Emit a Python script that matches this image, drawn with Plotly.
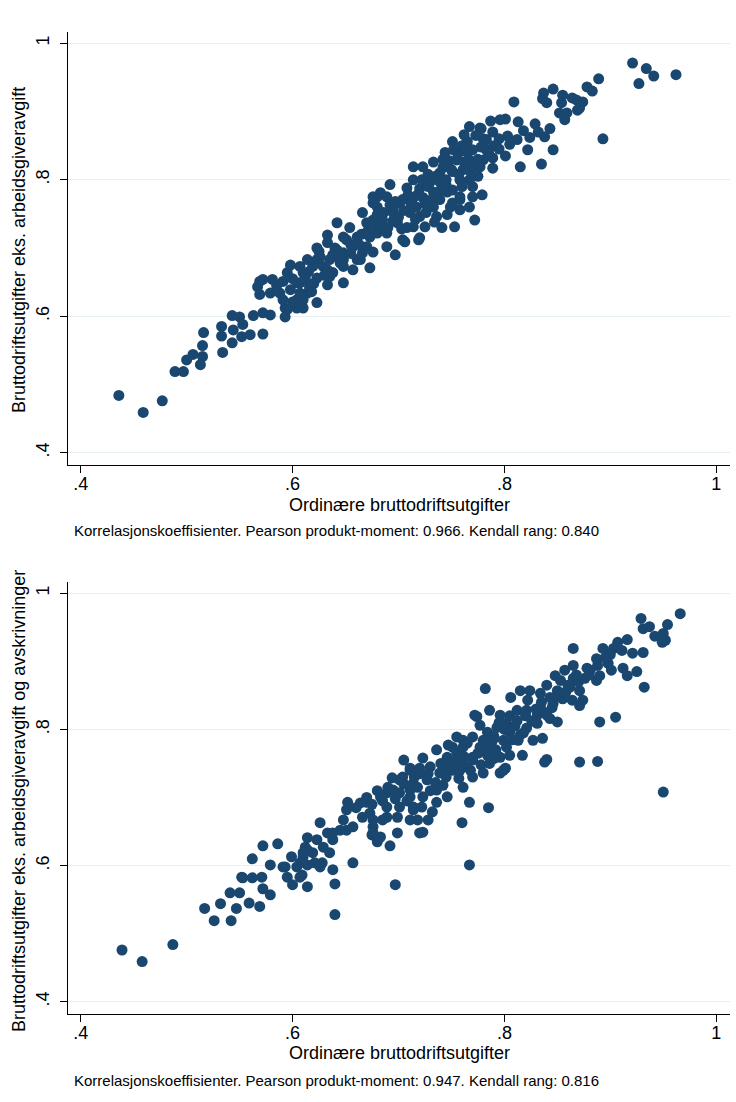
import plotly.graph_objects as go

# ---- data ----
top_points = [
(0.436,0.484),(0.459,0.459),(0.477,0.476),(0.489,0.519),(0.497,0.519),(0.500,0.536),(0.506,0.544),(0.513,0.529),(0.515,0.541),(0.515,0.557),(0.516,0.576),(0.534,0.547),(0.533,0.571),(0.533,0.585),(0.543,0.561),(0.544,0.580),(0.543,0.601),(0.550,0.599),(0.553,0.588),(0.552,0.570),(0.560,0.573),(0.563,0.601),(0.572,0.605),(0.579,0.602),(0.572,0.574),(0.567,0.643),(0.572,0.654),(0.581,0.654),(0.569,0.632),(0.579,0.634),(0.588,0.634),(0.593,0.612),(0.593,0.599),(0.595,0.664),(0.598,0.639),(0.604,0.624),(0.607,0.649),(0.610,0.612),(0.604,0.612),(0.614,0.634),(0.616,0.643),(0.623,0.620),(0.607,0.673),(0.614,0.683),(0.623,0.683),(0.623,0.700),(0.633,0.719),(0.633,0.708),(0.629,0.673),(0.635,0.683),(0.638,0.664),(0.642,0.687),(0.648,0.693),(0.633,0.646),(0.648,0.649),(0.642,0.737),(0.654,0.730),(0.651,0.712),(0.657,0.702),(0.661,0.683),(0.657,0.668),(0.666,0.693),(0.673,0.671),(0.666,0.752),(0.676,0.775),(0.680,0.760),(0.683,0.781),(0.689,0.775),(0.692,0.793),(0.676,0.741),(0.685,0.741),(0.680,0.722),(0.689,0.722),(0.689,0.702),(0.695,0.756),(0.697,0.690),(0.704,0.712),(0.701,0.766),(0.708,0.788),(0.714,0.819),(0.714,0.800),(0.714,0.731),(0.719,0.712),
(0.767,0.878),(0.751,0.856),(0.765,0.856),(0.744,0.840),(0.755,0.829),(0.733,0.826),(0.723,0.819),(0.739,0.810),(0.751,0.812),(0.770,0.819),(0.722,0.800),(0.730,0.797),(0.739,0.797),(0.758,0.800),(0.767,0.800),(0.720,0.787),(0.733,0.782),(0.746,0.782),(0.751,0.785),(0.680,0.775),
(0.704,0.771),(0.714,0.774),(0.723,0.774),(0.739,0.771),(0.758,0.771),(0.770,0.775),(0.676,0.766),(0.692,0.763),(0.717,0.760),(0.733,0.760),(0.751,0.766),(0.767,0.760),(0.680,0.749),(0.695,0.752),(0.711,0.752),(0.720,0.746),(0.736,0.746),(0.746,0.749),(0.758,0.756),(0.670,0.737),(0.683,0.731),(0.699,0.737),(0.708,0.730),(0.725,0.731),(0.741,0.730),(0.753,0.731),(0.772,0.741),(0.648,0.716),(0.661,0.716),(0.673,0.716),(0.720,0.715),(0.642,0.697),(0.670,0.702),(0.676,0.694),(0.626,0.687),(0.648,0.683),(0.664,0.683),(0.598,0.675),(0.619,0.673),(0.633,0.668),(0.648,0.673),(0.610,0.664),(0.623,0.656),(0.635,0.658),(0.569,0.651),(0.591,0.651),(0.604,0.649),(0.607,0.634),(0.618,0.636),(0.591,0.624),(0.600,0.621),(0.610,0.624),(0.595,0.610),
(0.889,0.948),(0.878,0.936),(0.883,0.930),(0.846,0.933),(0.837,0.927),(0.836,0.919),(0.840,0.913),(0.855,0.924),(0.864,0.920),(0.854,0.913),(0.874,0.914),(0.869,0.902),(0.852,0.898),(0.857,0.888),(0.859,0.898),(0.809,0.914),(0.893,0.860),(0.801,0.889),(0.813,0.885),(0.829,0.882),(0.843,0.875),(0.818,0.872),(0.832,0.870),(0.803,0.864),(0.812,0.859),(0.824,0.862),(0.838,0.863),(0.796,0.888),(0.787,0.886),(0.789,0.870),(0.778,0.875),(0.822,0.844),(0.846,0.844),(0.801,0.835),(0.815,0.819),(0.835,0.823),(0.789,0.817),(0.783,0.859),(0.770,0.844),(0.783,0.844),(0.767,0.829),(0.780,0.829),(0.789,0.832),(0.761,0.815),(0.777,0.819),(0.770,0.790),(0.779,0.778),(0.921,0.971),(0.934,0.963),(0.941,0.952),(0.927,0.941),(0.962,0.954),(0.868,0.917),(0.871,0.905),(0.706,0.709),(0.734,0.738),(0.749,0.760),(0.758,0.775),(0.777,0.876),
(0.745,0.800),(0.760,0.790),(0.750,0.815),(0.775,0.805),(0.765,0.840),(0.740,0.785),(0.725,0.765),(0.700,0.745),(0.690,0.730),(0.665,0.720),(0.655,0.705),(0.640,0.700),(0.625,0.695),(0.615,0.665),(0.600,0.655),(0.585,0.645),(0.780,0.860),(0.790,0.850),(0.795,0.860),(0.760,0.850),(0.773,0.865),
(0.705,0.755),(0.712,0.765),(0.718,0.778),(0.728,0.790),(0.735,0.805),(0.742,0.818),(0.748,0.828),(0.756,0.838),(0.762,0.826),(0.768,0.812),(0.757,0.808),(0.745,0.792),(0.732,0.772),(0.726,0.752),(0.716,0.742),(0.703,0.728),(0.695,0.740),(0.686,0.752),(0.697,0.768),(0.709,0.778),(0.663,0.705),(0.671,0.725),(0.678,0.735),(0.655,0.692),(0.645,0.678),(0.638,0.690),(0.630,0.660),(0.620,0.648),(0.612,0.655),(0.775,0.830),(0.785,0.840),(0.795,0.845),(0.805,0.852),(0.778,0.848),(0.762,0.866),(0.752,0.844),(0.742,0.830),(0.728,0.808),
]

bottom_points = [
(0.439,0.476),(0.458,0.459),(0.487,0.484),
(0.517,0.537),(0.526,0.519),(0.532,0.544),(0.542,0.519),(0.547,0.537),(0.541,0.560),(0.550,0.560),(0.559,0.545),(0.569,0.540),(0.552,0.583),(0.562,0.582),(0.571,0.583),(0.572,0.566),(0.579,0.557),(0.562,0.610),(0.572,0.629),(0.586,0.632),(0.579,0.601),(0.593,0.598),(0.599,0.613),(0.595,0.583),(0.600,0.572),(0.609,0.586),(0.614,0.569),(0.614,0.601),(0.607,0.604),(0.612,0.627),(0.610,0.619),(0.614,0.641),(0.619,0.619),(0.621,0.604),(0.628,0.604),(0.626,0.663),(0.623,0.638),(0.629,0.627),(0.635,0.619),(0.633,0.648),(0.638,0.648),(0.638,0.594),(0.640,0.573),(0.640,0.528),(0.645,0.652),(0.651,0.652),(0.648,0.667),(0.652,0.693),(0.651,0.682),(0.657,0.604),(0.664,0.692),(0.670,0.693),(0.666,0.671),(0.673,0.677),(0.676,0.657),(0.680,0.638),(0.675,0.645),(0.683,0.642),(0.692,0.629),(0.697,0.572),(0.699,0.648),(0.685,0.667),(0.683,0.701),(0.689,0.707),(0.695,0.711),(0.694,0.729),(0.701,0.707),(0.704,0.730),(0.705,0.755),(0.711,0.740),(0.711,0.711),(0.711,0.667),(0.714,0.686),(0.718,0.667),(0.720,0.648),
(0.772,0.821),(0.755,0.789),(0.761,0.784),(0.747,0.777),(0.736,0.770),(0.723,0.758),(0.711,0.743),(0.720,0.743),(0.701,0.726),(0.714,0.721),(0.727,0.726),(0.739,0.736),(0.751,0.740),(0.764,0.745),(0.770,0.755),(0.711,0.701),(0.723,0.701),(0.736,0.711),(0.746,0.701),(0.761,0.715),(0.770,0.730),(0.689,0.686),(0.701,0.686),(0.722,0.686),(0.736,0.693),(0.767,0.693),(0.732,0.679),(0.728,0.667),(0.699,0.671),(0.689,0.671),(0.676,0.667),(0.657,0.657),(0.676,0.648),(0.680,0.635),(0.723,0.649),(0.760,0.663),(0.767,0.601),(0.638,0.638),(0.614,0.623),(0.610,0.613),(0.591,0.598),(0.604,0.598),(0.626,0.598),(0.607,0.583),(0.553,0.582),
(0.966,0.970),(0.929,0.963),(0.931,0.948),(0.937,0.951),(0.954,0.954),(0.942,0.937),(0.950,0.941),(0.949,0.928),(0.952,0.931),(0.916,0.932),(0.907,0.928),(0.903,0.919),(0.911,0.916),(0.893,0.919),(0.921,0.912),(0.931,0.913),(0.925,0.885),(0.932,0.862),(0.865,0.919),(0.887,0.904),(0.888,0.894),(0.898,0.897),(0.901,0.887),(0.912,0.890),(0.916,0.879),(0.881,0.887),(0.890,0.879),(0.887,0.872),(0.876,0.875),(0.865,0.894),(0.857,0.887),(0.848,0.879),(0.865,0.875),(0.862,0.862),(0.871,0.857),(0.874,0.843),(0.871,0.835),(0.864,0.843),(0.853,0.872),(0.840,0.865),(0.850,0.857),(0.834,0.853),(0.824,0.857),(0.815,0.857),(0.822,0.843),(0.843,0.847),(0.846,0.838),(0.834,0.833),(0.782,0.860),(0.806,0.847),(0.812,0.828),(0.821,0.828),(0.831,0.821),(0.840,0.821),(0.843,0.816),(0.850,0.811),(0.786,0.828),(0.796,0.821),(0.774,0.819),(0.802,0.809),(0.812,0.813),(0.821,0.802),(0.831,0.809),(0.777,0.806),(0.784,0.796),(0.793,0.803),(0.805,0.796),(0.815,0.792),(0.890,0.811),(0.905,0.818),(0.770,0.789),(0.780,0.784),(0.789,0.784),(0.799,0.784),(0.827,0.784),(0.836,0.787),(0.751,0.774),(0.761,0.774),(0.777,0.774),(0.786,0.774),(0.802,0.774),(0.813,0.784),(0.746,0.759),(0.758,0.759),(0.770,0.759),(0.784,0.762),(0.796,0.759),(0.805,0.762),(0.817,0.762),(0.840,0.756),(0.838,0.752),(0.871,0.752),(0.888,0.753),(0.746,0.745),(0.758,0.740),(0.780,0.736),(0.786,0.750),(0.796,0.736),(0.801,0.743),(0.950,0.708),(0.799,0.740),(0.785,0.685),(0.714,0.682),
(0.730,0.745),(0.715,0.730),(0.705,0.720),(0.690,0.715),(0.680,0.710),(0.670,0.700),(0.660,0.685),(0.675,0.690),(0.720,0.735),(0.740,0.750),(0.755,0.765),(0.765,0.780),(0.790,0.790),(0.800,0.800),(0.810,0.805),(0.820,0.820),(0.830,0.830),(0.835,0.840),(0.850,0.850),(0.860,0.865),(0.870,0.870),(0.880,0.880),(0.895,0.905),(0.900,0.910),
(0.735,0.722),(0.745,0.730),(0.752,0.752),(0.762,0.760),(0.775,0.765),(0.783,0.772),(0.792,0.770),(0.790,0.757),(0.778,0.748),(0.768,0.740),(0.757,0.728),(0.742,0.718),(0.730,0.710),(0.718,0.715),(0.708,0.695),(0.697,0.698),(0.685,0.695),(0.728,0.735),(0.808,0.785),(0.818,0.795),(0.826,0.812),(0.838,0.825),(0.845,0.832),(0.855,0.845),(0.858,0.855),(0.868,0.880),(0.878,0.890),(0.760,0.750),(0.805,0.820),(0.795,0.810),
]

tick_vals = [0.4, 0.6, 0.8, 1.0]
tick_text = [".4", ".6", ".8", "1"]

x_title = "Ordinære bruttodriftsutgifter"
y_title_top = "Bruttodriftsutgifter eks. arbeidsgiveravgift"
y_title_bottom = "Bruttodriftsutgifter eks. arbeidsgiveravgift og avskrivninger"
note_top = "Korrelasjonskoeffisienter. Pearson produkt-moment: 0.966. Kendall rang: 0.840"
note_bottom = "Korrelasjonskoeffisienter. Pearson produkt-moment: 0.947. Kendall rang: 0.816"

# ---- figure ----
W, H = 736, 1102
MARK = "#1a476f"
FONT = "Liberation Sans, Arial, sans-serif"
FS = 18

fig = go.Figure()
fig.add_trace(go.Scatter(x=[p[0] for p in top_points], y=[p[1] for p in top_points],
                         mode="markers", xaxis="x", yaxis="y",
                         marker=dict(size=11, color=MARK, line=dict(width=0)),
                         hoverinfo="skip", showlegend=False))
fig.add_trace(go.Scatter(x=[p[0] for p in bottom_points], y=[p[1] for p in bottom_points],
                         mode="markers", xaxis="x2", yaxis="y2",
                         marker=dict(size=11, color=MARK, line=dict(width=0)),
                         hoverinfo="skip", showlegend=False))

xdom = [68 / W, 730 / W]
ydom_top = [1 - 465 / H, 1 - 31.7 / H]
ydom_bot = [1 - 1014 / H, 1 - 581.7 / H]

xr = [0.388, 1.013]
yr = [0.382, 1.017]

def xaxis(anchor):
    return dict(domain=xdom, range=xr, anchor=anchor, showgrid=False, zeroline=False,
                showline=True, linecolor="black", linewidth=1, mirror=False,
                ticks="outside", ticklen=7, tickcolor="black", tickwidth=1,
                tickvals=tick_vals, ticktext=tick_text, ticklabelstandoff=-5,
                tickfont=dict(family=FONT, size=FS, color="black"), automargin=False)

def yaxis(anchor, dom):
    return dict(domain=dom, range=yr, anchor=anchor, showgrid=True, gridcolor="#e6eff1",
                gridwidth=1, zeroline=False, showline=True, linecolor="black", linewidth=1,
                ticks="outside", ticklen=7, tickcolor="black", tickwidth=1,
                tickvals=tick_vals, ticktext=tick_text, tickangle=-90, ticklabelstandoff=4,
                tickfont=dict(family=FONT, size=FS, color="black"), automargin=False)

fig.update_layout(
    width=W, height=H, margin=dict(l=0, r=0, t=0, b=0),
    paper_bgcolor="white", plot_bgcolor="white",
    font=dict(family=FONT, color="black"),
    xaxis=xaxis("y"), yaxis=yaxis("x", ydom_top),
    xaxis2=xaxis("y2"), yaxis2=yaxis("x2", ydom_bot),
)

ann = []
cx = (xdom[0] + xdom[1]) / 2
for (yt, ny, ty, txt, note) in [
    (1 - 505 / H, 1 - 530 / H, 1 - 250 / H, y_title_top, note_top),
    (1 - 1053 / H, 1 - 1080 / H, 1 - 801 / H, y_title_bottom, note_bottom),
]:
    ann.append(dict(x=cx, y=yt, xref="paper", yref="paper", text=x_title, showarrow=False,
                    xanchor="center", yanchor="middle", font=dict(family=FONT, size=FS)))
    ann.append(dict(x=72 / W, y=ny, xref="paper", yref="paper", text=note, showarrow=False,
                    xanchor="left", yanchor="middle", font=dict(family=FONT, size=15)))
    ann.append(dict(x=19 / W, y=ty, xref="paper", yref="paper", text=txt, showarrow=False,
                    xanchor="center", yanchor="middle", textangle=-90,
                    font=dict(family=FONT, size=FS)))
fig.update_layout(annotations=ann)

fig.write_html("out.html")
